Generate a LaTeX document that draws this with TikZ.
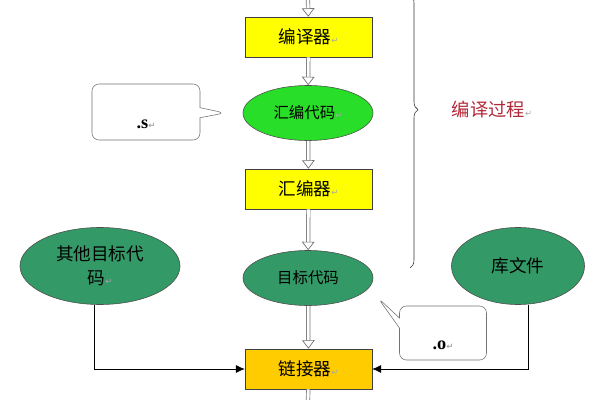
\documentclass[tikz,border=0pt]{standalone}
\usepackage{fontspec}
\setmainfont{Liberation Serif}
\newfontfamily\cjk{Noto Sans CJK SC}
\newfontfamily\symfont{DejaVu Sans}
\usepackage{tikz}
\usetikzlibrary{arrows.meta,shapes.geometric,shapes.callouts,positioning,decorations.pathreplacing}
\usepackage{xcolor}
\definecolor{stageyellow}{RGB}{255,255,0}
\definecolor{linkgold}{RGB}{255,204,0}
\definecolor{asmgreen}{RGB}{40,222,40}
\definecolor{objgreen}{RGB}{51,153,102}
\definecolor{procred}{RGB}{176,40,56}
\newcommand{\ret}{{\symfont\fontsize{6}{6}\selectfont\color{gray!70}↵}}
\newcommand{\lowtext}[1]{\raisebox{-0.3cm}[\height][0pt]{#1}}
\tikzstyle{stage} = [draw=black!75, minimum width=3.175cm, minimum height=1cm, font=\cjk\fontsize{12.5}{14}\selectfont]
\tikzstyle{code} = [ellipse, draw=black!70, inner sep=0pt, align=center]
\tikzstyle{bubble} = [rectangle callout, draw=black!55, fill=white, rounded corners=5pt, font=\bfseries\fontsize{13}{14}\selectfont]
\tikzstyle{flow} = [draw=gray!90!black, line width=0.5pt, double=white, double distance=2pt, -{Triangle[open,length=6pt,width=9pt]}]
\tikzstyle{feed} = [thin, -{Latex[length=2.2mm,width=2mm]}]

\begin{document}
\begin{tikzpicture}[x=0.025cm,y=-0.025cm]
\useasboundingbox (0,0) rectangle (600,400);
% main chain
\node[stage, fill=stageyellow] (compiler) at (308.5,37) {编译器\ret};
\node[code, fill=asmgreen, minimum width=3.25cm, minimum height=1.375cm, font=\cjk\fontsize{11}{13}\selectfont] (asmcode) at (308,113) {汇编代码\ret};
\node[stage, fill=stageyellow] (assembler) at (308.5,189) {汇编器\ret};
\node[code, fill=objgreen, minimum width=3.25cm, minimum height=1.375cm, font=\cjk\fontsize{11}{13}\selectfont] (objcode) at (308,278) {目标代码};
\node[stage, fill=linkgold] (linker) at (308.5,369) {链接器\ret};

% side inputs
\node[code, fill=objgreen, minimum width=4cm, minimum height=1.925cm, font=\cjk\fontsize{12.5}{17}\selectfont] (others) at (100,266) {其他目标代\\码\ret};
\node[code, fill=objgreen, minimum width=3.325cm, minimum height=1.925cm, font=\cjk\fontsize{12.5}{14}\selectfont] (libfile) at (518,266) {库文件};

% file suffix bubbles
\node[bubble, minimum width=2.7cm, minimum height=1.4cm, callout absolute pointer={(225,113)}] (sfile) at (146,112) {\lowtext{.s\ret}};
\node[bubble, minimum width=2.175cm, minimum height=1.35cm, callout absolute pointer={(378,298)}] (ofile) at (443,333) {\lowtext{.o\ret}};

% arrows
\coordinate (source) at (308,-3);
\coordinate (output) at (308,404);
\draw[flow] (source) -- (compiler);
\draw[flow] (compiler) -- (asmcode);
\draw[flow] (asmcode) -- (assembler);
\draw[flow] (assembler) -- (objcode);
\draw[flow] (objcode) -- (linker);
\draw[flow, -] (linker) -- (output);
\draw[feed] ([xshift=-0.15cm]others.south) |- (linker.west);
\draw[feed] ([xshift=0.25cm]libfile.south) |- (linker.east);

% compile stage brace
\draw[black!80, decorate, decoration={brace, amplitude=0.2cm, aspect=0.42}] (410,-5) -- (410,268);
\node[text=procred, font=\cjk\fontsize{13}{15}\selectfont] (proclabel) at (492,110) {编译过程\ret};
\end{tikzpicture}
\end{document}
